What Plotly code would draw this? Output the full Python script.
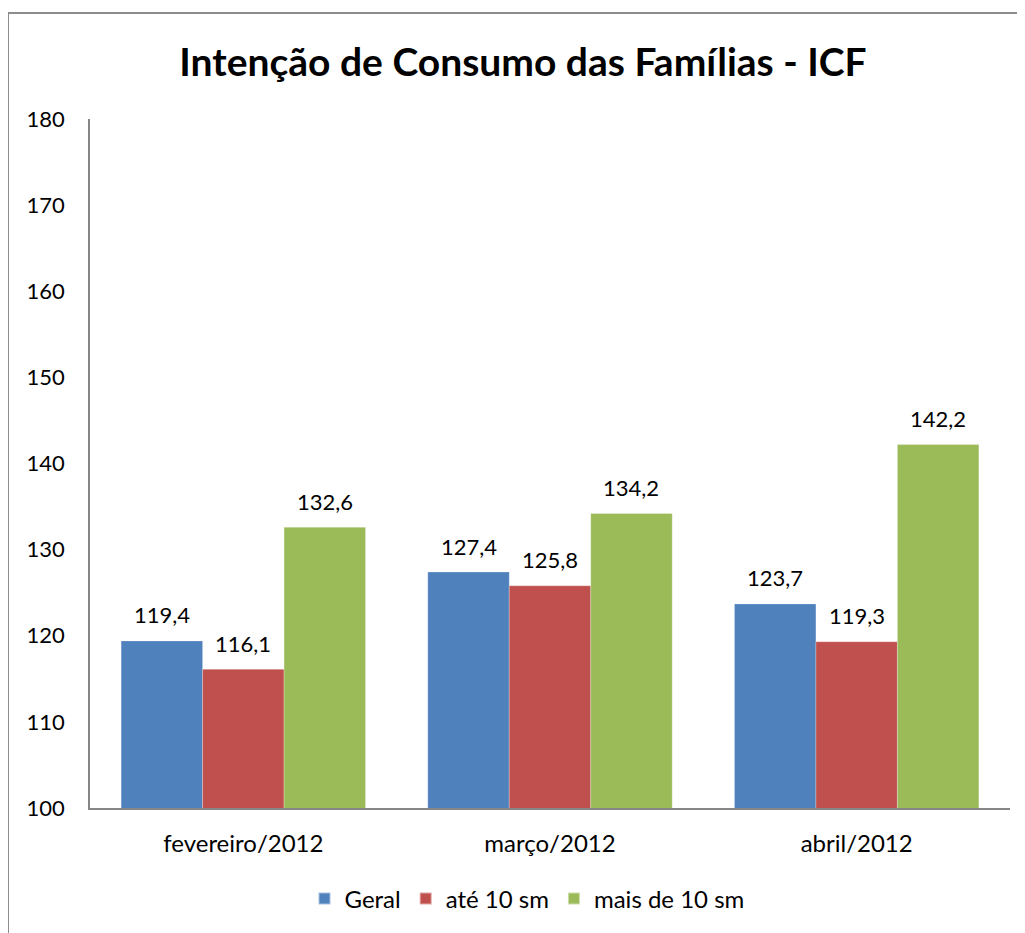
import plotly.graph_objects as go

categories = ["fevereiro/2012", "março/2012", "abril/2012"]
series_names = ["Geral", "até 10 sm", "mais de 10 sm"]
geral = [119.4, 127.4, 123.7]
ate10 = [116.1, 125.8, 119.3]
mais10 = [132.6, 134.2, 142.2]
colors = ["#4F81BD", "#C0504D", "#9BBB59"]
y_ticks = [100, 110, 120, 130, 140, 150, 160, 170, 180]

FONT = "Lato, Calibri, Carlito, sans-serif"

series = [geral, ate10, mais10]
fig = go.Figure()
for i, (name, vals, col) in enumerate(zip(series_names, series, colors)):
    fig.add_trace(go.Bar(
        x=categories, y=vals, name=name, offsetgroup=str(i),
        marker=dict(color=col, line=dict(width=0.5, color="rgba(255,255,255,0.5)")),
        cliponaxis=False,
    ))

# figure coordinates (page is offset by the 8px body margin)
W, H = 1017, 925
L, R, T, B = 82, 15, 111, 125
pw, ph = W - L - R, H - T - B

def px_x(x):
    return (x - L) / pw

def px_y(y):
    return (H - B - y) / ph

# data labels above bars
nser = len(series)
annotations = []
cat_frac = 1.0 / len(categories)
bargap = 0.203
bw = cat_frac * (1 - bargap) / nser
for i, vals in enumerate(series):
    for j, v in enumerate(vals):
        xc = cat_frac * (j + 0.5) + bw * (i - (nser - 1) / 2)
        annotations.append(dict(
            x=xc, xref="paper", y=v, yref="y",
            text=f"{v:.1f}".replace(".", ","), showarrow=False,
            yanchor="middle", xanchor="center", yshift=26,
            font=dict(family=FONT, size=22, color="#000000"),
        ))

fig.update_layout(
    width=W, height=H,
    margin=dict(l=L, r=R, t=T, b=B),
    paper_bgcolor="white", plot_bgcolor="white",
    separators=",.",
    barmode="group", bargap=bargap, bargroupgap=0,
    title=dict(text="<b>Intenção de Consumo das Famílias - ICF</b>",
               x=515 / W, xanchor="center", y=1 - 54 / H, yanchor="middle",
               font=dict(family=FONT, size=39, color="#000000")),
    font=dict(family=FONT, size=22, color="#000000"),
    showlegend=True,
    legend=dict(orientation="h", xref="container", x=519 / W, xanchor="center",
                yref="container", y=1 - 891 / H, yanchor="middle",
                font=dict(family=FONT, size=24, color="#000000"),
                itemsizing="constant", traceorder="normal"),
    xaxis=dict(showgrid=False, showline=True, linecolor="#868686", linewidth=1.5,
               ticks="", ticklabelstandoff=13,
               tickfont=dict(family=FONT, size=24, color="#000000")),
    yaxis=dict(range=[100, 180], tickvals=y_ticks, showgrid=False, zeroline=False,
               showline=True, linecolor="#868686", linewidth=1.5,
               ticks="", ticklabelstandoff=19,
               tickfont=dict(family=FONT, size=22, color="#000000")),
    annotations=annotations,
    shapes=[dict(type="rect", xref="paper", yref="paper",
                 x0=px_x(0), x1=px_x(1014), y0=px_y(960), y1=px_y(5),
                 line=dict(color="#8C8C8C", width=2), fillcolor="rgba(0,0,0,0)",
                 layer="below")],
)

fig.write_html("out.html")
